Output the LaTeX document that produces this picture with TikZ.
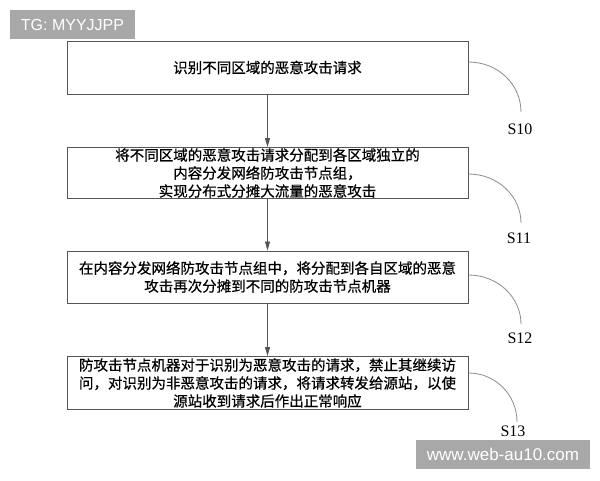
\documentclass[tikz,border=0pt]{standalone}
\usepackage{fontspec}
\setmainfont{Liberation Serif}
\newfontfamily\cjk[FakeBold=0.6]{Noto Sans CJK SC}
\newfontfamily\wmfont{Liberation Sans}
\usetikzlibrary{arrows.meta}
\definecolor{boxgray}{HTML}{555555}
\definecolor{curvegray}{HTML}{8C8C8C}
\definecolor{wmgray}{HTML}{A8A8A8}
\begin{document}
\begin{tikzpicture}[x=1pt,y=-1pt,
  stepbox/.style={draw=boxgray, line width=1pt, minimum width=401pt, minimum height=52pt,
    inner sep=0pt, align=center, font=\cjk\fontsize{14.5}{18}\selectfont},
  flow/.style={draw=boxgray, line width=0.9pt, -{Triangle[length=9pt,width=5pt]}},
  tagline/.style={draw=curvegray, line width=0.8pt},
  steplabel/.style={font=\fontsize{16}{16}\selectfont, inner sep=0pt},
  watermark/.style={fill=wmgray, text=white, inner sep=0pt}]
\useasboundingbox[fill=white] (0,0) rectangle (600,480);

\node[watermark, minimum width=125pt, minimum height=29pt, font=\wmfont\fontsize{16}{16}\selectfont] (tg) at (72.5,24.5) {TG: MYYJJPP};

\node[stepbox, minimum height=53pt] (b1) at (267.5,67.5) {识别不同区域的恶意攻击请求};
\node[stepbox, minimum height=51pt] (b2) at (267.5,173) {将不同区域的恶意攻击请求分配到各区域独立的\\内容分发网络防攻击节点组，\\实现分布式分摊大流量的恶意攻击};
\node[stepbox] (b3) at (267.5,277) {在内容分发网络防攻击节点组中，将分配到各自区域的恶意\\攻击再次分摊到不同的防攻击节点机器};
\node[stepbox, minimum height=53pt] (b4) at (267.5,383) {防攻击节点机器对于识别为恶意攻击的请求，禁止其继续访\\问，对识别为非恶意攻击的请求，将请求转发给源站，以使\\源站收到请求后作出正常响应};

\draw[flow] (b1) -- (b2);
\draw[flow] (b2) -- (b3);
\draw[flow] (b3) -- (b4);

\coordinate (e1) at (521,112);
\coordinate (e2) at (521,223);
\coordinate (e3) at (521,324);
\coordinate (e4) at (517,422);
\draw[tagline] ([yshift=5.5pt]b1.east) .. controls +(29,0) and +(0,-28) .. (e1);
\draw[tagline] ([yshift=-1pt]b2.east) .. controls +(29,0) and +(0,-27) .. (e2);
\draw[tagline] ([yshift=2pt]b3.east) .. controls +(29,0) and +(0,-27) .. (e3);
\draw[tagline] ([yshift=10pt]b4.east) .. controls +(27,0) and +(0,-27) .. (e4);

\node[steplabel] (s10) at (520,129) {S10};
\node[steplabel] (s11) at (519,238) {S11};
\node[steplabel] (s12) at (520,338) {S12};
\node[steplabel] (s13) at (513,431) {S13};

\node[watermark, minimum width=174pt, minimum height=29pt, font=\wmfont\fontsize{17}{17}\selectfont] (web) at (503,454.5) {www.web-au10.com};
\end{tikzpicture}
\end{document}
